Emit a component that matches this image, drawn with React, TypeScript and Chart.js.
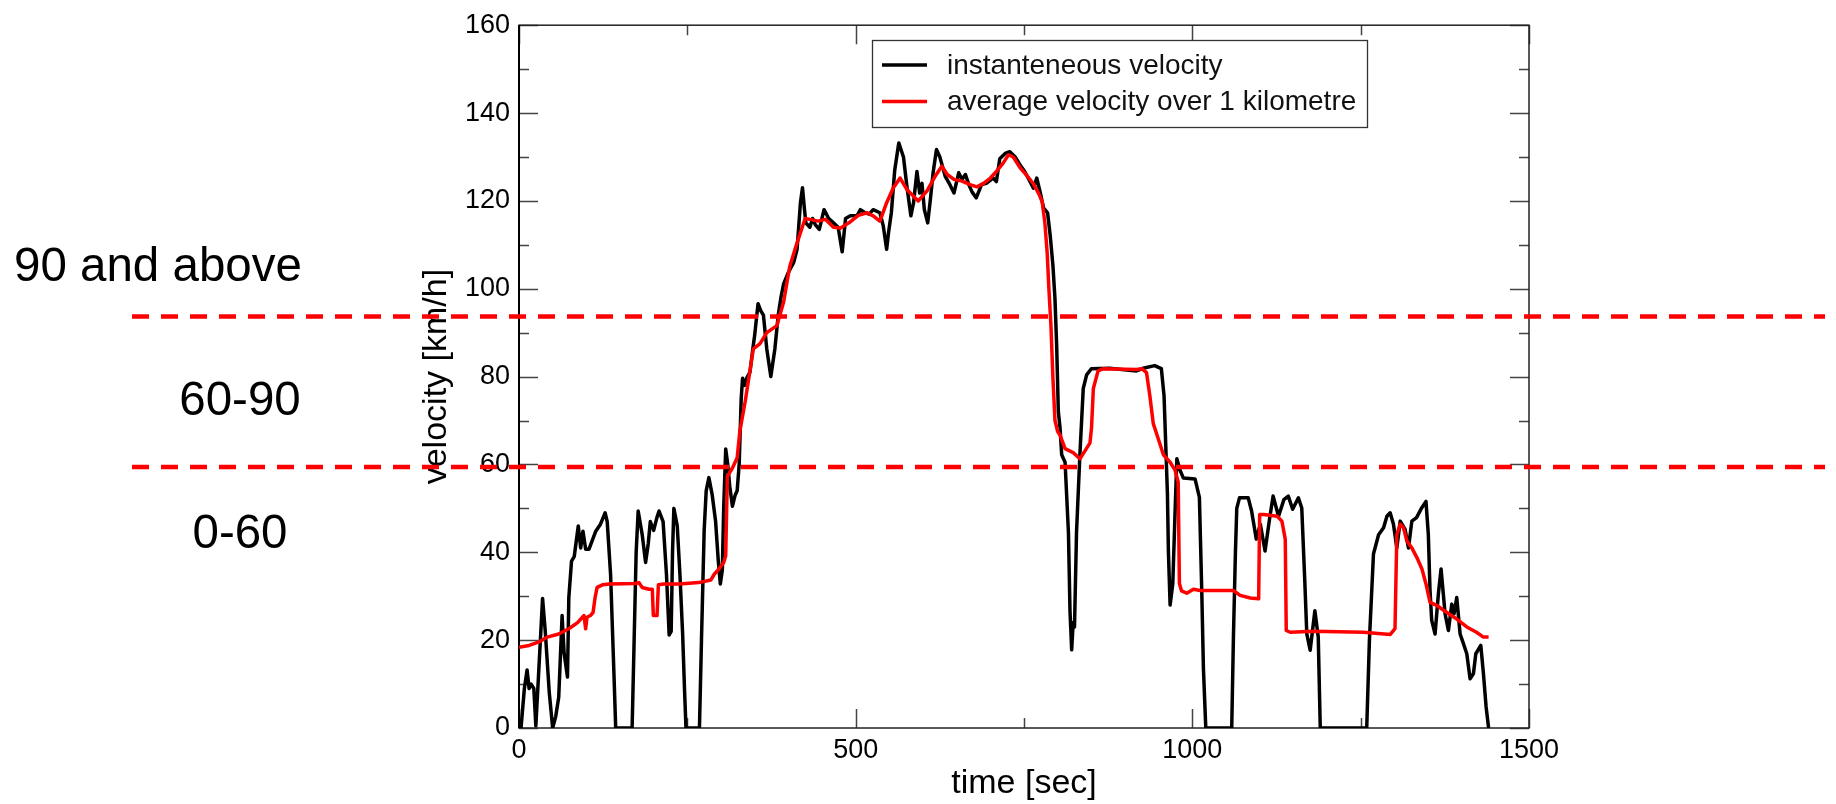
import React, { useEffect, useRef } from "react";
import { Chart, registerables } from "chart.js";

Chart.register(...registerables);

const FONT = "'Liberation Sans', Arial, Helvetica, sans-serif";

// instantaneous velocity (time in sec, velocity in km/h)
const instTime = [
  0, 3, 8, 12, 15, 18, 22, 25, 29, 35, 39, 45, 50, 54.5, 59, 64, 67, 72, 74, 78, 82, 88, 91.6, 95, 99, 104, 114, 121, 128, 131, 136, 141, 143.6,
  168, 171, 174, 177, 183, 188, 192, 195, 200, 205, 208, 214, 219, 223, 226, 228, 230, 235, 239, 243, 246, 248,
  268, 271, 275, 278, 282, 287, 292, 296, 299, 302, 304, 307, 310, 313, 317, 321, 324, 327, 330, 332, 335, 338, 343, 347, 350, 355, 359, 363, 368, 374, 380, 385, 389, 393, 400, 408, 413, 418, 421, 424, 426, 432, 436, 440, 446, 453, 460, 467, 474, 480, 485, 492, 502, 507, 514, 520, 526, 536,
  541, 546, 549, 553, 558, 564, 571, 576, 582, 586, 591, 595, 598.5, 602, 607, 611, 615, 620, 625, 633, 640, 646, 653, 658, 663, 668, 673, 679, 687, 694, 704, 709, 714, 722, 729, 737, 744, 751, 759, 764, 769, 774, 779, 785, 789, 793, 796, 798.5, 801,
  803.5, 806, 811, 816, 818.3, 820.8, 823, 825, 828, 833, 838, 843, 850, 877, 917, 927, 944, 954, 958, 961, 963, 964.5, 967, 971, 974.3, 977, 981.7, 986.7, 1004, 1010.5, 1014, 1016.5, 1020,
  1058.5, 1061, 1064, 1066, 1070, 1083, 1088, 1095, 1101, 1108, 1115, 1120, 1128, 1136, 1142.5, 1149, 1157.5, 1162.5, 1167, 1170, 1175, 1182, 1187, 1190,
  1259, 1263, 1269, 1276.6, 1284, 1289, 1293.8, 1298.7, 1303.7, 1308.7, 1316, 1321, 1326, 1333, 1340.6, 1347, 1350.5, 1353, 1355.5, 1360.5, 1365.4, 1369.4, 1375.4, 1380.3, 1385.3, 1388.7, 1392.7, 1397.7, 1402.6, 1407.6, 1412.5, 1417.5, 1421, 1428.4, 1432.3, 1436.3, 1440,
];
const instVelocity = [
  0, 0, 9, 13.2, 9, 10, 9, 0.5, 12, 29.5, 22, 8, 0, 2.6, 7, 25.6, 17, 11.6, 29.7, 38, 39, 46, 41, 44.8, 40.7, 40.7, 44.8, 46.4, 49, 47, 35, 12.4, 0,
  0, 20, 40, 49.4, 44, 37.7, 42, 47, 45, 48, 49.4, 47, 35, 21.2, 22, 40, 50, 46, 35, 21.5, 8, 0,
  0, 20, 45, 54, 57, 53, 47, 38, 32.8, 36, 50, 63.5, 60, 55, 50.5, 53, 54, 60, 75, 79.6, 78, 79.6, 81, 86, 89.4, 96.6, 95, 94, 86.3, 80, 86.3, 94, 98, 101.1, 103.7, 106, 109, 119.6, 123, 118, 115, 114, 116, 114.6, 113.5, 118, 116, 115, 114, 108.4, 116, 116.6, 116.6, 118, 117.3, 117, 118, 117.3,
  114.3, 109, 113, 117.3, 127, 133.2, 130, 123.4, 116.6, 119.6, 126.7, 121.8, 124, 118, 115, 120.4, 126.4, 131.7, 130, 125.6, 123.7, 121.8, 126.4, 124.9, 126, 123.7, 122, 120.7, 123.7, 124, 125.2, 124.4, 129.6, 130.8, 131.2, 130, 128.2, 126.7, 124.4, 122.9, 125.2, 122, 118.4, 117.3, 112, 105.2, 97.7, 87.1, 72,
  68.4, 62.2, 60.5, 44.5, 26.7, 17.8, 24, 23, 44.5, 62.2, 77.3, 80.4, 81.8, 81.9, 81.3, 81.9, 82.5, 81.8, 75.6, 62.2, 53.4, 40, 28, 32.9, 48.9, 61.3, 58.7, 56.9, 56.7, 52.5, 31.2, 13.4, 0,
  0, 20.5, 40, 50, 52.4, 52.4, 49.4, 43, 46.4, 40.3, 47.9, 52.8, 48.2, 52, 52.8, 49.8, 52.4, 50.1, 33.5, 21.4, 17.7, 26.7, 20.7, 0,
  0, 20, 39.6, 44, 45.6, 48.2, 49, 46.4, 41, 47.1, 45.2, 41, 47.1, 47.9, 50.1, 51.6, 44, 31.3, 24.5, 21.4, 30.5, 36.2, 26, 22.2, 28.2, 26, 29.7, 21.4, 19.2, 16.9, 11.2, 12.4, 16.9, 18.8, 12.4, 4.8, 0,
];

// average velocity over 1 kilometre
const avgTime = [
  0, 15, 30, 42, 59, 74, 87, 96.5, 99, 101, 106, 110, 113, 116, 124, 134, 173, 178, 183, 193, 198, 199.5, 205, 207, 215, 238, 267, 285, 290, 297, 304, 307,
  309.4, 317, 324, 328, 336, 348, 358, 368, 383, 393, 402, 412, 425, 432, 444, 455, 467, 477, 490, 504, 517, 526, 536, 546, 556, 566, 576, 593, 606, 618, 628, 636, 646, 658, 670, 680, 690, 700, 709, 719, 727, 734, 744, 754, 764, 772, 777, 781, 784.5, 787, 790, 793, 796, 800,
  803.5, 811, 823, 833, 840.6, 848, 850.3, 853, 860, 868, 917, 925, 932, 937, 942, 949.5, 957, 967, 974.3, 979, 980.8, 984, 991.7, 1001.6, 1011.5, 1061, 1071, 1086, 1098.5,
  1100, 1106, 1126, 1133, 1138, 1139.5, 1145.5, 1180, 1254, 1294, 1301, 1303.7, 1308.7, 1313.6, 1318.6, 1326, 1333.5, 1341, 1347, 1353, 1363, 1378, 1392.7, 1407.6, 1422, 1432.3, 1440,
];
const avgVelocity = [
  18.4, 18.8, 19.6, 20.7, 21.4, 22.6, 24, 25.6, 22.6, 25.2, 25.6, 26.3, 29.7, 32, 32.6, 32.8, 32.9, 33.1, 32, 31.6, 31.6, 25.6, 25.6, 32.6, 32.8, 32.8, 33.1, 33.7, 35, 36.2, 37.7, 39.2,
  57.3, 59.2, 61.5, 67.6, 74.4, 86.3, 87.5, 90, 91.6, 97, 105, 110, 116, 115.8, 115.4, 115.8, 114, 113.8, 115, 116.7, 117.3, 116.6, 115.4, 119.6, 123, 125.2, 122.6, 120, 122.3, 125.6, 127.9, 126, 124.9, 124.5, 123.7, 123.2, 124, 125.2, 126.7, 128.6, 130.5, 130, 127.6, 125.8, 123.9, 121.6, 119.8, 115, 108, 99.9, 91.6, 79.5, 70, 67.5,
  66.7, 63.6, 62.7, 61.3, 63.1, 64.9, 68.4, 77.3, 81.3, 81.8, 81.6, 81.8, 80.9, 75.5, 69.3, 65.8, 62.2, 60.5, 58.7, 56, 32.9, 31.2, 30.7, 31.6, 31.3, 31.3, 30.2, 29.6, 29.4,
  48.6, 48.6, 48.2, 47.1, 43, 22.2, 21.8, 22, 21.8, 21.3, 22.6, 44, 46.4, 45.6, 42.6, 41, 38.8, 36.2, 32.8, 28.6, 27.9, 26.3, 24.8, 23, 21.8, 20.7, 20.7,
];

// speed bands
const bandLimits = [93.7, 59.4];
const bandLabels = ["90 and above", "60-90", "0-60"];

const seriesLabels = ["instanteneous velocity", "average velocity over 1 kilometre"];
const seriesColors = ["#000000", "#ff0000"];

const xTickStep = 500;
const xMinorStep = 250;
const yTickStep = 20;
const yMinorStep = 10;

const toPoints = (xs: number[], ys: number[]) => xs.map((x, i) => ({ x, y: ys[i] }));

const framePlugin = {
  id: "frameTicks",
  beforeDatasetsDraw(chart: any) {
    const { ctx, chartArea: a, scales } = chart;
    const xs = scales.x;
    const ys = scales.y;
    ctx.save();
    ctx.strokeStyle = "#444";
    ctx.lineWidth = 1.5;
    const major = 19;
    const minor = 10;
    for (let v = xs.min; v <= xs.max + 1e-6; v += xMinorStep) {
      const p = Math.round(xs.getPixelForValue(v)) + 0.5;
      const len = Math.abs(v % xTickStep) < 1e-6 ? major : minor;
      ctx.beginPath();
      ctx.moveTo(p, a.bottom);
      ctx.lineTo(p, a.bottom - len);
      ctx.moveTo(p, a.top);
      ctx.lineTo(p, a.top + len);
      ctx.stroke();
    }
    for (let v = ys.min; v <= ys.max + 1e-6; v += yMinorStep) {
      const p = Math.round(ys.getPixelForValue(v)) + 0.5;
      const len = Math.abs(v % yTickStep) < 1e-6 ? major : minor;
      ctx.beginPath();
      ctx.moveTo(a.left, p);
      ctx.lineTo(a.left + len, p);
      ctx.moveTo(a.right, p);
      ctx.lineTo(a.right - len, p);
      ctx.stroke();
    }
    ctx.strokeStyle = "#222";
    ctx.lineWidth = 1.5;
    ctx.strokeRect(a.left, a.top, a.right - a.left, a.bottom - a.top);
    ctx.beginPath();
    ctx.lineWidth = 2;
    ctx.strokeStyle = "#000";
    ctx.moveTo(a.left, a.top);
    ctx.lineTo(a.left, a.bottom);
    ctx.stroke();
    ctx.restore();
  },
};

const overlayPlugin = {
  id: "overlay",
  afterDraw(chart: any) {
    const { ctx, scales } = chart;
    const ys = scales.y;
    ctx.save();
    // dashed band limits
    ctx.strokeStyle = "#ff0000";
    ctx.lineWidth = 4.5;
    ctx.setLineDash([17, 12]);
    bandLimits.forEach((v) => {
      const p = ys.getPixelForValue(v);
      ctx.beginPath();
      ctx.moveTo(132, p);
      ctx.lineTo(1825, p);
      ctx.stroke();
    });
    ctx.setLineDash([]);

    // band labels
    ctx.fillStyle = "#000";
    ctx.font = `47.5px ${FONT}`;
    ctx.textBaseline = "alphabetic";
    ctx.textAlign = "left";
    ctx.fillText(bandLabels[0], 14, 281);
    ctx.textAlign = "center";
    ctx.fillText(bandLabels[1], 240, 415);
    ctx.fillText(bandLabels[2], 240, 548);

    // legend
    const lx = 872, ly = 40, lw = 495, lh = 87;
    ctx.fillStyle = "#fff";
    ctx.fillRect(lx, ly, lw, lh);
    ctx.strokeStyle = "#333";
    ctx.lineWidth = 1.3;
    ctx.strokeRect(lx + 0.5, ly + 0.5, lw, lh);
    const rows = [65, 101.5];
    ctx.font = `28px ${FONT}`;
    ctx.textAlign = "left";
    ctx.textBaseline = "middle";
    seriesLabels.forEach((lab, i) => {
      ctx.strokeStyle = seriesColors[i];
      ctx.lineWidth = 3.5;
      ctx.beginPath();
      ctx.moveTo(882, rows[i]);
      ctx.lineTo(927, rows[i]);
      ctx.stroke();
      ctx.fillStyle = "#111";
      ctx.fillText(lab, 947, rows[i] + 1);
    });
    ctx.restore();
  },
};

export default function App() {
  const ref = useRef<HTMLCanvasElement | null>(null);
  useEffect(() => {
    document.body.style.margin = "0";
    const canvas = ref.current;
    if (!canvas) return;
    const chart = new Chart(canvas, {
      type: "line",
      data: {
        datasets: [
          {
            label: seriesLabels[0],
            data: toPoints(instTime, instVelocity),
            borderColor: seriesColors[0],
            backgroundColor: seriesColors[0],
            borderWidth: 3.5,
            pointRadius: 0,
            tension: 0,
            fill: false,
            order: 2,
            borderJoinStyle: "round",
          },
          {
            label: seriesLabels[1],
            data: toPoints(avgTime, avgVelocity),
            borderColor: seriesColors[1],
            backgroundColor: seriesColors[1],
            borderWidth: 3.5,
            pointRadius: 0,
            tension: 0,
            fill: false,
            order: 1,
            borderJoinStyle: "round",
          },
        ],
      },
      options: {
        animation: false,
        responsive: false,
        devicePixelRatio: 1,
        layout: { padding: { left: 0, right: 307, top: 21.5, bottom: 0 } },
        plugins: { legend: { display: false }, tooltip: { enabled: false } },
        scales: {
          x: {
            type: "linear",
            min: 0,
            max: 1500,
            grid: { display: false, drawTicks: false },
            border: { display: false },
            ticks: {
              stepSize: xTickStep,
              color: "#000",
              padding: 6,
              maxRotation: 0,
              font: { family: FONT, size: 27 },
              callback: (v: any) => String(v),
            },
            title: {
              display: true,
              text: "time [sec]",
              color: "#000",
              font: { family: FONT, size: 34 },
              padding: { top: 0, bottom: 0 },
            },
            afterFit: (s: any) => {
              s.height = 76;
            },
          },
          y: {
            type: "linear",
            min: 0,
            max: 160,
            grid: { display: false, drawTicks: false },
            border: { display: false },
            ticks: {
              stepSize: yTickStep,
              color: "#000",
              padding: 9,
              font: { family: FONT, size: 27 },
              callback: (v: any) => String(v),
            },
            title: {
              display: true,
              text: "velocity [km/h]",
              color: "#000",
              font: { family: FONT, size: 34 },
              padding: { top: 416, bottom: 0 },
            },
            afterFit: (s: any) => {
              s.width = 519;
            },
          },
        },
      },
      plugins: [framePlugin, overlayPlugin],
    } as any);
    return () => chart.destroy();
  }, []);
  return (
    <div style={{ width: 1836, height: 804, background: "#fff" }}>
      <canvas ref={ref} width={1836} height={804} style={{ display: "block" }} />
    </div>
  );
}
